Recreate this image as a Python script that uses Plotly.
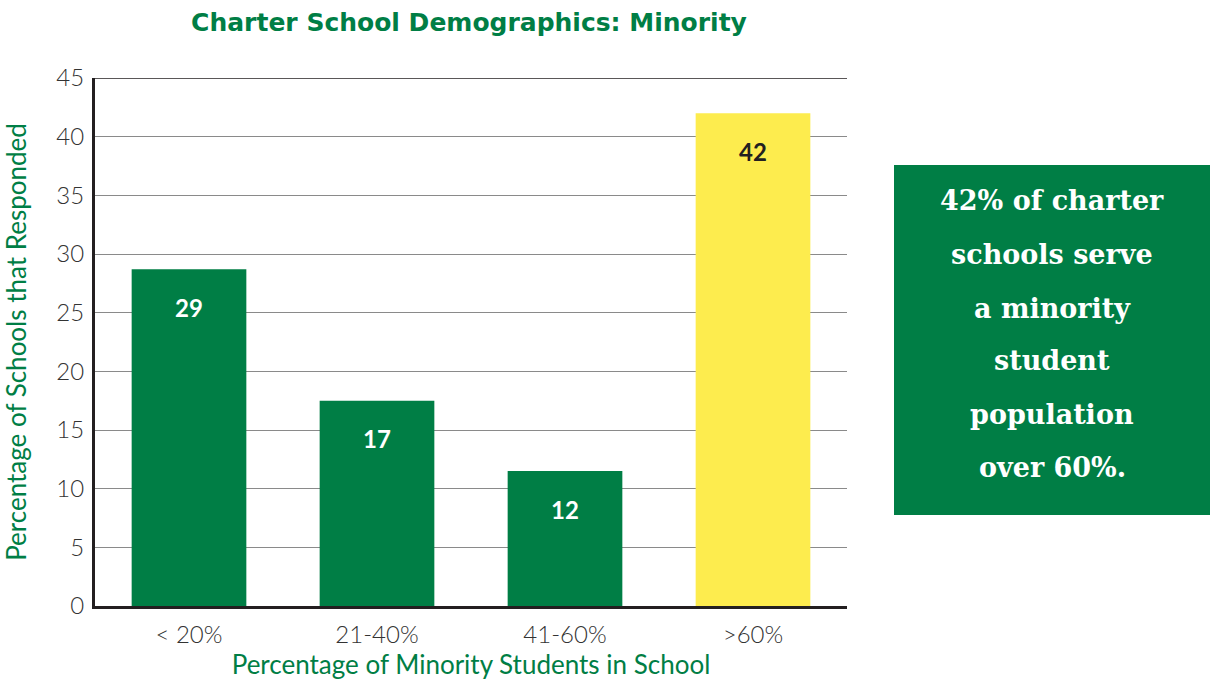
import plotly.graph_objects as go

categories = ["< 20%", "21-40%", "41-60%", ">60%"]
values = [28.7, 17.5, 11.5, 42.0]
labels = ["29", "17", "12", "42"]
bar_colors = ["#007E45", "#007E45", "#007E45", "#FDEC4E"]
label_colors = ["#FFFFFF", "#FFFFFF", "#FFFFFF", "#231F20"]
y_ticks = [0, 5, 10, 15, 20, 25, 30, 35, 40, 45]
callout_lines = ["42% of charter", "schools serve", "a minority", "student", "population", "over 60%."]

GREEN = "#007E45"
SANS = "Lato, 'Open Sans', sans-serif"
SERIF = "'DejaVu Serif', 'Liberation Serif', serif"

fig = go.Figure()
fig.add_trace(go.Bar(
    x=categories, y=values, marker=dict(color=bar_colors, line=dict(width=0)),
    width=0.61, hoverinfo="skip", showlegend=False,
))

for c, v, t, col in zip(categories, values, labels, label_colors):
    fig.add_annotation(x=c, y=v, text=f"<b>{t}</b>", showarrow=False, yshift=-38,
                       font=dict(family=SANS, size=24, color=col))

# callout box
fig.add_shape(type="rect", xref="paper", yref="paper",
              x0=(894 - 95) / 752, x1=(1210 - 95) / 752,
              y0=(606 - 515) / 528, y1=(606 - 165) / 528,
              fillcolor=GREEN, line=dict(width=0), layer="above")
line_ys = [201, 254, 308, 360, 414, 467]
for txt, py in zip(callout_lines, line_ys):
    fig.add_annotation(xref="paper", yref="paper", x=(1052 - 95) / 752, y=(606 - py) / 528,
                       text=f"<b>{txt}</b>", showarrow=False, xanchor="center", yanchor="middle",
                       font=dict(family=SERIF, size=27, color="#FFFFFF"))

fig.update_layout(
    width=1210, height=681,
    margin=dict(l=95, r=363, t=78, b=75),
    paper_bgcolor="white", plot_bgcolor="white",
    bargap=0.39,
    title=dict(text="<b>Charter School Demographics: Minority</b>", x=469 / 1210, xanchor="center",
               y=1 - 22 / 681, yanchor="middle",
               font=dict(family="'DejaVu Sans', sans-serif", size=25, color=GREEN)),
    xaxis=dict(
        automargin=False,
        title=dict(text="Percentage of Minority Students in School", standoff=8,
                   font=dict(family=SANS, size=26, color=GREEN)),
        tickfont=dict(family=SANS, size=24, color="#333333", weight=300),
        showline=True, linecolor="#231F20", linewidth=2.5,
        ticks="outside", ticklen=5, tickcolor="rgba(0,0,0,0)", showgrid=False,
    ),
    yaxis=dict(
        automargin=False,
        title=dict(text="Percentage of Schools that Responded", standoff=26,
                   font=dict(family=SANS, size=26, color=GREEN)),
        range=[0, 45], tickvals=y_ticks,
        tickfont=dict(family=SANS, size=24, color="#333333", weight=300),
        showline=True, linecolor="#231F20", linewidth=3,
        showgrid=True, gridcolor="#8a8a8a", gridwidth=1.3,
        zeroline=False, ticks="outside", ticklen=3, tickcolor="rgba(0,0,0,0)",
    ),
)
fig.add_shape(type="line", xref="paper", yref="y", x0=0, x1=1, y0=45, y1=45,
              line=dict(color="#231F20", width=1.5))

fig.write_html("out.html")
